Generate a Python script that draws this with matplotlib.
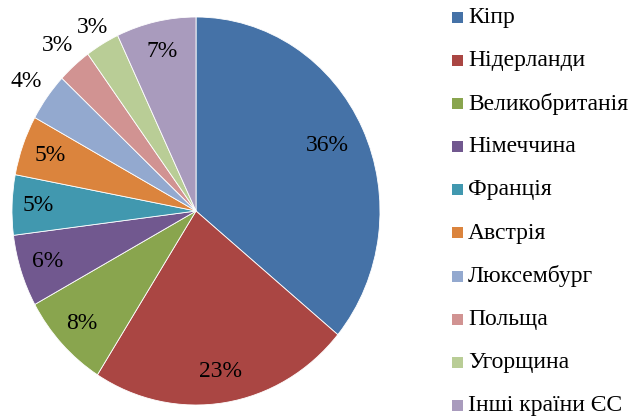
import matplotlib
matplotlib.use('Agg')
from matplotlib import pyplot as plt
from matplotlib.patches import Rectangle
import numpy as np

plt.rcParams['font.family'] = ['Liberation Serif', 'DejaVu Serif']

# shares of countries, %
countries = ['Кіпр', 'Нідерланди', 'Великобританія', 'Німеччина', 'Франція',
             'Австрія', 'Люксембург', 'Польща', 'Угорщина', 'Інші країни ЄС']
shares = [36, 23, 8, 6, 5, 5, 4, 3, 3, 7]
colors = ['#4572A7', '#AA4643', '#89A54E', '#71588F', '#4198AF',
          '#DB843D', '#93A9CF', '#D19392', '#B9CD96', '#A99BBD']
# where each percent label sits (fraction of radius)
label_r = [0.79, 0.84, 0.85, 0.85, 0.86, 0.84, 1.14, 1.14, 1.10, 0.84]

W, H = 634, 419
fig = plt.figure(figsize=(W / 100, H / 100), dpi=100)
ax = fig.add_axes([0, 0, 1, 1])

# pie is a bit taller than wide in the picture
rx, ry = 184, 194
cx, cy = 196 / rx, (H - 211) / ry

wedges, _ = ax.pie(shares, colors=colors, startangle=90, counterclock=False,
                   center=(cx, cy), radius=1,
                   wedgeprops=dict(edgecolor='white', linewidth=0.6))
ax.set_aspect('auto')
ax.set_xlim(0, W / rx)
ax.set_ylim(0, H / ry)
ax.axis('off')

for w, s, r in zip(wedges, shares, label_r):
    mid = np.deg2rad((w.theta1 + w.theta2) / 2)
    ax.text(cx + r * np.cos(mid), cy + r * np.sin(mid), '%d%%' % s,
            ha='center', va='center', fontsize=17, color='black')

# legend on the right
for i, (name, c) in enumerate(zip(countries, colors)):
    ypix = 17.5 + 43.1 * i
    yf = 1 - ypix / H
    fig.patches.append(Rectangle((452 / W, yf - 5.5 / H), 11 / W, 11 / H,
                                 transform=fig.transFigure, facecolor=c,
                                 edgecolor='none'))
    fig.text(468 / W, yf, name, ha='left', va='center', fontsize=17)

plt.savefig('out.png', dpi=100)
plt.close()
